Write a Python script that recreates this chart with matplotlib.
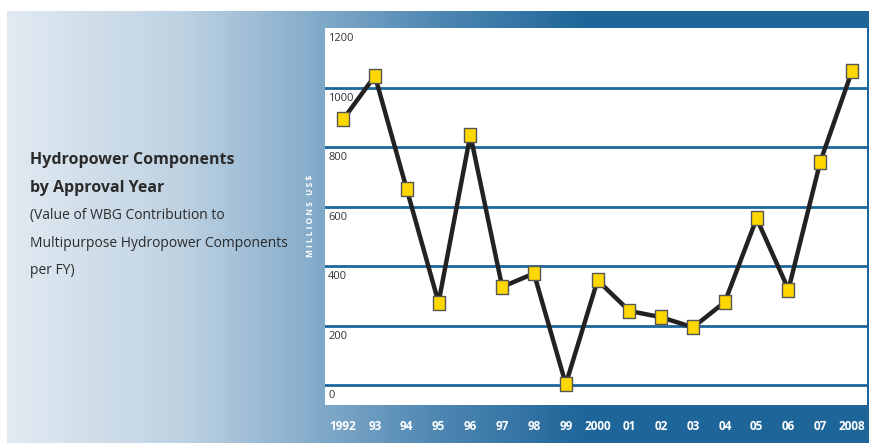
import numpy as np
import matplotlib.pyplot as plt
from matplotlib.colors import LinearSegmentedColormap

plt.rcParams['font.family'] = ['Open Sans', 'DejaVu Sans']

# approval year and WBG contribution, millions US$
years = ['1992', '93', '94', '95', '96', '97', '98', '99', '2000',
         '01', '02', '03', '04', '05', '06', '07', '2008']
values = [893, 1039, 658, 277, 841, 330, 375, 3, 352,
          249, 228, 194, 279, 560, 321, 750, 1056]
yticks = [0, 200, 400, 600, 800, 1000, 1200]

W, H = 870, 443
fig = plt.figure(figsize=(W / 100, H / 100), dpi=100)

# blue gradient panel behind everything
bg = fig.add_axes([0, 0, 1, 1])
bg.set_xlim(0, W)
bg.set_ylim(H, 0)
bg.axis('off')
cmap = LinearSegmentedColormap.from_list('panel', [
    (0.0, '#e1eaf2'), (0.2, '#bfd2e2'), (0.37, '#7ea8c8'),
    (0.5, '#4f87b3'), (0.67, '#1f6699'), (1.0, '#1e6699')])
grad = np.linspace(0, 1, 512).reshape(1, -1)
bg.imshow(grad, cmap=cmap, aspect='auto', extent=[7, W, H, 11], zorder=0)

# left-hand caption
tc = '#2b2b2b'
bg.text(30, 160, 'Hydropower Components', fontsize=11.5, fontweight='bold',
        color=tc, va='center')
bg.text(30, 188, 'by Approval Year', fontsize=11.5, fontweight='bold',
        color=tc, va='center')
bg.text(30, 215, '(Value of WBG Contribution to', fontsize=10, color=tc, va='center')
bg.text(30, 243, 'Multipurpose Hydropower Components', fontsize=10, color=tc, va='center')
bg.text(30, 270, 'per FY)', fontsize=10, color=tc, va='center')
bg.text(311, 216, 'M I L L I O N S   U S $', fontsize=6, fontweight='bold',
        color='white', rotation=90, ha='center', va='center')

# plot area
ax = fig.add_axes([325 / W, 1 - 405 / H, 542 / W, 377 / H])
ax.set_facecolor('white')
x = np.arange(len(years))
ax.set_xlim(-0.57, len(years) - 1 + 0.47)
ax.set_ylim(-67, 1200)

for v in yticks[:-1]:
    ax.axhline(v, color='#1e6699', lw=2, zorder=1)
for v in yticks:
    ax.text(0.006, v - 18, str(v), transform=ax.get_yaxis_transform(),
            fontsize=8, color='#333333', va='top', ha='left')

# tall yellow box markers
box = [(-0.4, -0.5), (0.4, -0.5), (0.4, 0.5), (-0.4, 0.5), (-0.4, -0.5)]
ax.plot(x, values, color='#222222', lw=3.2, zorder=2)
ax.plot(x, values, ls='none', marker=box, markersize=10.5,
        markerfacecolor='#ffd700', markeredgecolor='#555555',
        markeredgewidth=1, zorder=3)

ax.set_xticks(x)
ax.set_xticklabels(years, fontsize=8.5, fontweight='bold', color='white')
ax.tick_params(axis='x', length=0, pad=11)
ax.set_yticks([])
for s in ax.spines.values():
    s.set_visible(False)

fig.savefig('out.png', dpi=100)
